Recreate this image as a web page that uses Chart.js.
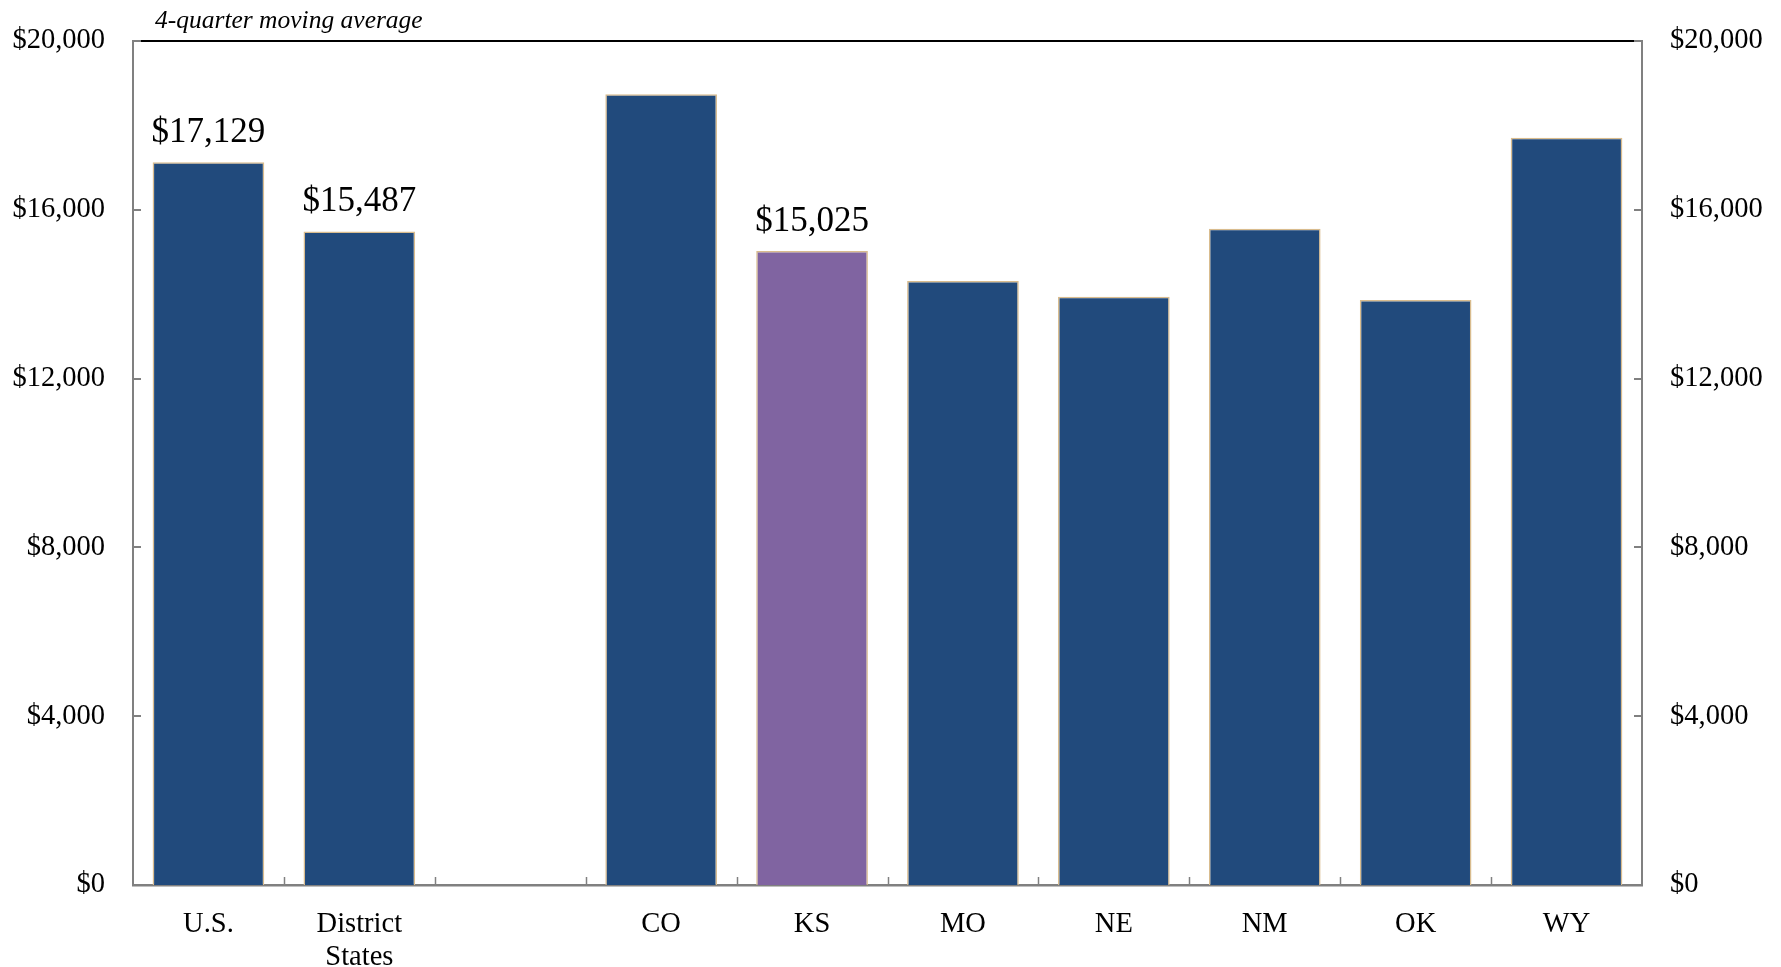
<!DOCTYPE html>
<html lang="en">
<head>
    <meta charset="UTF-8">
    <title>4-quarter moving average</title>
    <script src="https://cdn.jsdelivr.net/npm/chart.js"></script>
    <style>
body {
    margin: 0;
    background: #ffffff;
}
#chart {
    display: block;
}
    </style>
</head>
<body>
    <canvas id="chart" width="1781" height="967"></canvas>

    <script>
        // data
        const categories = ['U.S.', ['District', 'States'], '', 'CO', 'KS', 'MO', 'NE', 'NM', 'OK', 'WY'];
        const values = [17129, 15487, null, 18740, 15025, 14310, 13940, 15550, 13860, 17710];
        const labelled = [0, 1, 4]; // bars that get a value on top
        const highlight = 4; // KS
        const yTicks = [0, 4000, 8000, 12000, 16000, 20000];
        const subtitle = '4-quarter moving average';

        const NAVY = '#214A7C';
        const PURPLE = '#8064A1';
        const EDGE = '#D9BC8E';
        const AXIS = '#808080';
        const FONT = "'Liberation Serif', 'DejaVu Serif', serif";

        const money = v => '$' + Number(v).toLocaleString('en-US');

        // inward ticks, top rule, subtitle and value labels
        const decorations = {
            id: 'decorations',
            afterDraw(chart) {
                const ctx = chart.ctx;
                const a = chart.chartArea;
                const y = chart.scales.y;
                ctx.save();

                // black rule along the top
                ctx.strokeStyle = '#000000';
                ctx.lineWidth = 2;
                ctx.beginPath();
                ctx.moveTo(a.left, a.top);
                ctx.lineTo(a.right, a.top);
                ctx.stroke();

                // y ticks pointing in, both sides
                ctx.strokeStyle = AXIS;
                ctx.lineWidth = 2;
                yTicks.forEach(v => {
                    const py = Math.round(y.getPixelForValue(v));
                    ctx.beginPath();
                    ctx.moveTo(a.left, py);
                    ctx.lineTo(a.left + 8, py);
                    ctx.moveTo(a.right, py);
                    ctx.lineTo(a.right - 8, py);
                    ctx.stroke();
                });

                // x ticks between categories, pointing up
                const step = (a.right - a.left) / categories.length;
                ctx.lineWidth = 1.5;
                for (let i = 1; i < categories.length; i++) {
                    const px = Math.round(a.left + i * step) + 0.5;
                    ctx.beginPath();
                    ctx.moveTo(px, a.bottom);
                    ctx.lineTo(px, a.bottom - 8);
                    ctx.stroke();
                }

                // subtitle
                ctx.fillStyle = '#000000';
                ctx.font = 'italic 25.5px ' + FONT;
                ctx.textAlign = 'left';
                ctx.textBaseline = 'alphabetic';
                ctx.fillText(subtitle, 155, 28);

                // values above selected bars
                const meta = chart.getDatasetMeta(0);
                ctx.font = '35px ' + FONT;
                ctx.textAlign = 'center';
                ctx.textBaseline = 'bottom';
                labelled.forEach(i => {
                    const bar = meta.data[i];
                    ctx.fillText(money(values[i]), bar.x, bar.y - 12);
                });

                ctx.restore();
            }
        };

        const tickFont = { family: FONT, size: 28.5, lineHeight: 1.16 };

        const ctx = document.getElementById('chart').getContext('2d');
        const chart = new Chart(ctx, {
            type: 'bar',
            data: {
                labels: categories,
                datasets: [{
                    data: values,
                    backgroundColor: values.map((v, i) => i === highlight ? PURPLE : NAVY),
                    borderColor: EDGE,
                    borderWidth: 1.5,
                    categoryPercentage: 1,
                    barPercentage: 0.74,
                    yAxisID: 'y'
                }]
            },
            options: {
                responsive: false,
                animation: false,
                layout: { padding: { top: 41, left: 0, right: 0, bottom: 0 } },
                plugins: {
                    legend: { display: false },
                    tooltip: { enabled: false }
                },
                scales: {
                    x: {
                        grid: { display: false },
                        border: { color: AXIS, width: 2.5 },
                        ticks: { color: '#000000', font: tickFont, padding: 15, maxRotation: 0, autoSkip: false },
                        afterFit(s) { s.height = 82; }
                    },
                    y: {
                        position: 'left',
                        min: yTicks[0],
                        max: yTicks[yTicks.length - 1],
                        grid: { display: false },
                        border: { color: AXIS, width: 2 },
                        ticks: { stepSize: 4000, color: '#000000', font: tickFont, padding: 20, callback: money },
                        afterFit(s) { s.width = 133; }
                    },
                    y2: {
                        position: 'right',
                        min: yTicks[0],
                        max: yTicks[yTicks.length - 1],
                        grid: { display: false },
                        border: { color: AXIS, width: 2 },
                        ticks: { stepSize: 4000, color: '#000000', font: tickFont, padding: 20, callback: money },
                        afterFit(s) { s.width = 139; }
                    }
                }
            },
            plugins: [decorations]
        });
    </script>
</body>
</html>
